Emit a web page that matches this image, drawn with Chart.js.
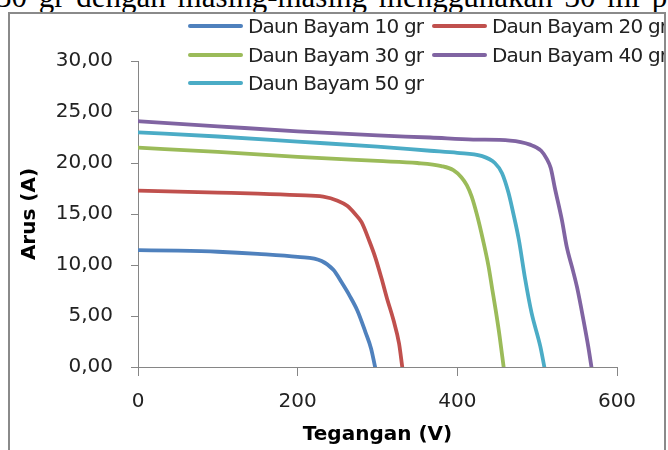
<!DOCTYPE html>
<html>
<head>
<meta charset="utf-8">
<script src="https://cdn.jsdelivr.net/npm/chart.js@4.4.0/dist/chart.umd.min.js"></script>
<style>
  body { margin: 0; background: #fff; width: 668px; height: 450px; overflow: hidden; position: relative; }
  #cap { position: absolute; left: -4px; top: -19px; font: 31px "Liberation Serif", serif; line-height: 31px; white-space: nowrap; color: #000; word-spacing: 4px; }
  #c { position: absolute; left: 0; top: 0; }
  #frame { position: absolute; left: 8px; top: 12px; width: 658px; height: 460px; box-sizing: border-box; border: 2px solid #8a8a8a; pointer-events: none; }
  #legendClip { position: absolute; left: 10px; top: 14px; width: 654px; height: 100px; overflow: hidden; }
  .lg { position: absolute; height: 24px; white-space: nowrap; font: 20px "DejaVu Sans", sans-serif; letter-spacing: -0.8px; color: #222; }
  .lg i { position: absolute; left: 0; top: 10px; width: 55px; height: 4px; border-radius: 2px; }
  .lg span { position: absolute; left: 60px; top: 0; line-height: 24px; }
</style>
</head>
<body>
<div id="cap">30 gr dengan masing-masing menggunakan 30 ml p</div>
<canvas id="c" width="668" height="450"></canvas>
<div id="legendClip"></div>
<div id="frame"></div>
<script>
// tegangan (V) dan arus (A) tiap sampel
const volt10 = [0, 50, 100, 150, 200, 230, 245, 255, 265, 275, 285, 292, 297];
const arus10 = [11.45, 11.4, 11.3, 11.1, 10.8, 10.4, 9.5, 8.3, 7.0, 5.5, 3.4, 1.8, 0];

const volt20 = [0, 50, 100, 150, 200, 232, 250, 262, 272, 280, 290, 297, 305, 312, 320, 327, 331];
const arus20 = [17.3, 17.2, 17.1, 17.0, 16.85, 16.7, 16.3, 15.8, 15.0, 14.2, 12.3, 10.8, 8.7, 6.7, 4.6, 2.3, 0];

const volt30 = [0, 100, 200, 300, 350, 380, 395, 405, 412, 418, 425, 432, 439, 444, 448, 453, 458];
const arus30 = [21.5, 21.1, 20.6, 20.2, 20.0, 19.7, 19.3, 18.6, 17.8, 16.7, 14.8, 12.5, 9.9, 7.5, 5.6, 3.0, 0];

const volt40 = [0, 100, 200, 300, 366, 420, 466, 491, 505, 512, 517, 522, 531, 537, 545, 550, 558, 564, 568];
const arus40 = [24.1, 23.6, 23.1, 22.7, 22.5, 22.3, 22.2, 21.8, 21.2, 20.4, 19.5, 17.6, 14.4, 11.8, 9.4, 7.8, 4.6, 2.0, 0];

const volt50 = [0, 100, 200, 300, 366, 400, 430, 447, 456, 464, 470, 477, 485, 493, 504, 509];
const arus50 = [23.0, 22.6, 22.1, 21.6, 21.2, 21.0, 20.7, 20.0, 19.0, 17.1, 15.1, 12.5, 8.6, 5.3, 2.0, 0];

const seriesLabels = ['Daun Bayam 10 gr', 'Daun Bayam 20 gr', 'Daun Bayam 30 gr', 'Daun Bayam 40 gr', 'Daun Bayam 50 gr'];
const seriesColors = ['#4F81BD', '#C0504D', '#9BBB59', '#8064A2', '#4BACC6'];
const xTicks = [0, 200, 400, 600];
const yTicks = [0, 5, 10, 15, 20, 25, 30];

const allVolt = [volt10, volt20, volt30, volt40, volt50];
const allArus = [arus10, arus20, arus30, arus40, arus50];

const toPoints = (xs, ys) => xs.map((x, i) => ({ x: x, y: ys[i] }));

const datasets = seriesLabels.map((label, i) => ({
  label: label,
  data: toPoints(allVolt[i], allArus[i]),
  borderColor: seriesColors[i],
  backgroundColor: seriesColors[i],
  borderWidth: 3.8,
  pointRadius: 0,
  cubicInterpolationMode: 'monotone',
  borderCapStyle: 'round',
  fill: false,
}));

const axisGray = '#868686';
const tickFont = { family: 'DejaVu Sans', size: 20 };
const titleFont = { family: 'DejaVu Sans', size: 20, weight: 'bold' };

const chart = new Chart(document.getElementById('c'), {
  type: 'line',
  data: { datasets: datasets },
  options: {
    responsive: false,
    animation: false,
    devicePixelRatio: 1,
    layout: { padding: { left: 18, top: 61, right: 51, bottom: 3 } },
    plugins: {
      legend: { display: false },
      tooltip: { enabled: false },
    },
    scales: {
      x: {
        type: 'linear',
        min: 0,
        max: 600,
        afterBuildTicks: (scale) => { scale.ticks = xTicks.map(v => ({ value: v })); },
        afterFit: (scale) => { scale.height = 450 - 367 - 3; },
        ticks: { font: tickFont, color: '#222', padding: 14, maxRotation: 0 },
        grid: { drawOnChartArea: false, tickLength: 9, color: axisGray },
        border: { color: axisGray, width: 1 },
        title: { display: true, text: 'Tegangan (V)', font: titleFont, color: '#000', padding: 0 },
      },
      y: {
        min: 0,
        max: 30,
        afterBuildTicks: (scale) => { scale.ticks = yTicks.map(v => ({ value: v })); },
        afterFit: (scale) => { scale.width = 138 - 18; },
        ticks: {
          font: tickFont,
          color: '#222',
          padding: 18,
          callback: (v) => v.toFixed(2).replace('.', ','),
        },
        grid: { drawOnChartArea: false, tickLength: 7, color: axisGray },
        border: { color: axisGray, width: 1 },
        title: { display: true, text: 'Arus (A)', font: titleFont, color: '#000', padding: 0 },
      },
    },
  },
});

// legenda di dalam area plot, dua kolom (Excel style)
const legendPos = [[188, 14], [432, 14], [188, 43], [432, 43], [188, 71]];
const clip = document.getElementById('legendClip');
chart.data.datasets.forEach((ds, i) => {
  const item = document.createElement('div');
  item.className = 'lg';
  item.style.left = (legendPos[i][0] - 10) + 'px';
  item.style.top = (legendPos[i][1] - 14) + 'px';
  item.innerHTML = '<i style="background:' + ds.borderColor + '"></i><span>' + ds.label + '</span>';
  clip.appendChild(item);
});
</script>
</body>
</html>
